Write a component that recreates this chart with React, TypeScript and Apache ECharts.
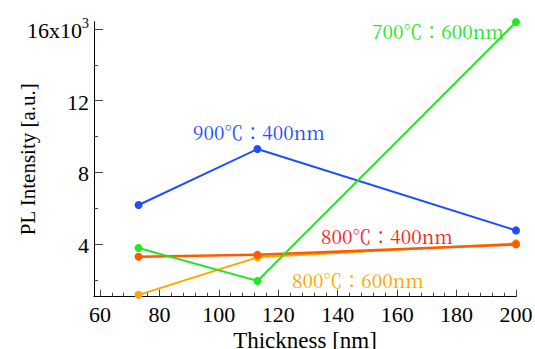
import React, { useEffect, useRef } from "react";
import * as echarts from "echarts";

const thickness = [73, 113, 200];
const s900_400 = [6.18, 9.3, 4.76];
const s700_600 = [3.78, 1.94, 16.39];
const s800_400 = [3.29, 3.4, 3.98];
const s800_600 = [1.16, 3.26, 4.04];

const xMajorTicks = [60, 80, 100, 120, 140, 160, 180, 200];
const xMinorTicks: number[] = [];
for (let i = 0; i < xMajorTicks.length - 1; i++) {
  for (let k = 1; k < 5; k++) xMinorTicks.push(xMajorTicks[i] + k * 4);
}
const yMajorTicks = [4, 8, 12, 16];
const yMinorTicks = [2, 6, 10, 14];

const labels = [
  { text: "700℃：600nm", color: "#22e622", x: 372, y: 30 },
  { text: "900℃：400nm", color: "#1f4cff", x: 193, y: 131.5 },
  { text: "800℃：400nm", color: "#ff2020", x: 321, y: 235.5 },
  { text: "800℃：600nm", color: "#ffa500", x: 292, y: 279.5 },
];

const FONT = "Liberation Serif";
const LABEL_FONT = "Noto Serif CJK JP";

const X_MIN = 58;
const X_MAX = 200;
const Y_MIN = 1.06;
const Y_MAX = 16.41;

export default function App() {
  const ref = useRef<HTMLDivElement>(null);
  useEffect(() => {
    if (!ref.current) return;
    const chart = echarts.init(ref.current, undefined, { renderer: "svg" });
    const mk = (ys: number[]) => thickness.map((x, i) => [x, ys[i]]);
    const line = (name: string, ys: number[], color: string, width = 2) => ({
      name,
      type: "line",
      data: mk(ys),
      symbol: "circle",
      symbolSize: 8,
      lineStyle: { color, width },
      itemStyle: { color },
      z: 3,
    });
    const tickStyle = { color: "#444", width: 1 };
    chart.setOption({
      animation: false,
      grid: {
        left: 94,
        right: 19,
        top: 21.7,
        bottom: 52.3,
        containLabel: false,
        outerBoundsMode: "none",
      },
      xAxis: [
        {
          type: "value",
          min: X_MIN,
          max: X_MAX,
          name: "Thickness [nm]",
          nameLocation: "middle",
          nameMoveOverlap: false,
          nameGap: 32,
          nameTextStyle: { fontFamily: FONT, fontSize: 23, color: "#000", verticalAlign: "top" },
          axisLine: { show: true, lineStyle: { color: "#000", width: 1 } },
          axisTick: { show: true, inside: true, length: 7, customValues: xMajorTicks, lineStyle: tickStyle },
          axisLabel: {
            customValues: xMajorTicks,
            fontFamily: FONT,
            fontSize: 22,
            color: "#000",
            margin: 7,
          },
          splitLine: { show: false },
        },
        {
          type: "value",
          min: X_MIN,
          max: X_MAX,
          position: "bottom",
          axisLine: { show: false },
          axisTick: { show: true, inside: true, length: 4, customValues: xMinorTicks, lineStyle: tickStyle },
          axisLabel: { show: false },
          splitLine: { show: false },
        },
      ],
      yAxis: [
        {
          type: "value",
          min: Y_MIN,
          max: Y_MAX,
          name: "PL Intensity [a.u.]",
          nameLocation: "middle",
          nameMoveOverlap: false,
          nameGap: 56,
          nameTextStyle: { fontFamily: FONT, fontSize: 21, color: "#000" },
          axisLine: { show: true, lineStyle: { color: "#000", width: 1 } },
          axisTick: { show: true, inside: true, length: 9, customValues: yMajorTicks, lineStyle: tickStyle },
          axisLabel: {
            customValues: yMajorTicks,
            margin: 5,
            formatter: (v: number) => (v === 16 ? "{a|16x10}{b|3}" : "{a|" + v + "}"),
            rich: {
              a: { fontFamily: FONT, fontSize: 22, color: "#000", lineHeight: 25, verticalAlign: "bottom" },
              b: { fontFamily: FONT, fontSize: 14, color: "#000", lineHeight: 25, verticalAlign: "top" },
            },
          },
          splitLine: { show: false },
        },
        {
          type: "value",
          min: Y_MIN,
          max: Y_MAX,
          position: "left",
          axisLine: { show: false },
          axisTick: { show: true, inside: true, length: 4, customValues: yMinorTicks, lineStyle: tickStyle },
          axisLabel: { show: false },
          splitLine: { show: false },
        },
      ],
      series: [
        line("900℃:400nm", s900_400, "#1f4cff"),
        line("800℃:600nm", s800_600, "#ffa500"),
        line("800℃:400nm", s800_400, "#ff5a00", 2.5),
        line("700℃:600nm", s700_600, "#22e622"),
      ],
      graphic: labels.map((l) => ({
        type: "text",
        x: l.x,
        y: l.y,
        style: {
          text: l.text,
          fill: l.color,
          fontFamily: LABEL_FONT,
          fontSize: 19,
          verticalAlign: "middle",
          align: "left",
        },
        z: 10,
      })),
    });
    return () => chart.dispose();
  }, []);
  return (
    <div
      ref={ref}
      style={{ position: "fixed", left: 0, top: 0, width: 535, height: 349, background: "#fff" }}
    />
  );
}
